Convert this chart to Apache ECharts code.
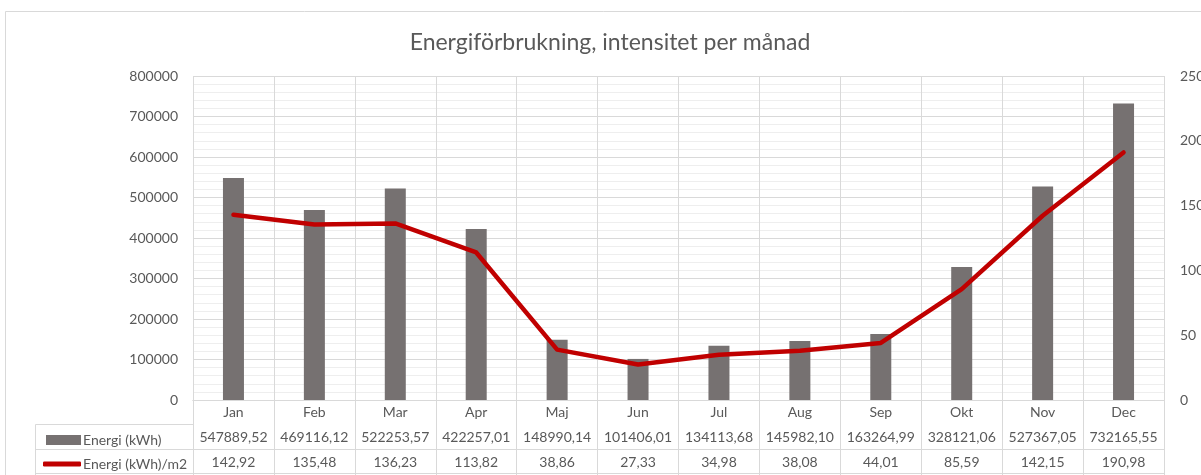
<!DOCTYPE html>
<html>
<head>
<meta charset="utf-8">
<script src="https://cdn.jsdelivr.net/npm/echarts@6/dist/echarts.min.js"></script>
<style>
  html, body { margin: 0; padding: 0; background: #fff; overflow: hidden; }
  #main { width: 1201px; height: 475px; }
</style>
</head>
<body>
<div id="main"></div>
<script>
// månader och värden (avlästa ur tabellen)
const months = ["Jan", "Feb", "Mar", "Apr", "Maj", "Jun", "Jul", "Aug", "Sep", "Okt", "Nov", "Dec"];
const energi = [547889.52, 469116.12, 522253.57, 422257.01, 148990.14, 101406.01, 134113.68, 145982.10, 163264.99, 328121.06, 527367.05, 732165.55];
const intensitet = [142.92, 135.48, 136.23, 113.82, 38.86, 27.33, 34.98, 38.08, 44.01, 85.59, 142.15, 190.98];

const fnt = "Lato, 'Liberation Sans', sans-serif";
const txt = "#595959";
const lineCol = "#d9d9d9";

function sv(n) {
  return n.toFixed(2).replace(".", ",");
}

// extra x-axlar som ritar datatabellens rader
function tableAxis(offset, values) {
  return {
    type: "category",
    gridIndex: 0,
    position: "bottom",
    offset: offset,
    data: months,
    axisLine: { show: true, lineStyle: { color: lineCol, width: 1 } },
    axisTick: { show: false },
    splitLine: { show: false },
    axisLabel: values ? {
      interval: 0,
      margin: 5,
      color: txt,
      fontFamily: fnt,
      fontSize: 14,
      lineHeight: 16,
      formatter: (v, i) => sv(values[i])
    } : { show: false }
  };
}

let myChart = echarts.init(document.getElementById("main"), null, { renderer: "canvas", width: 1201, height: 475 });

let option = {
  backgroundColor: "#fff",
  animation: false,
  title: {
    text: "Energiförbrukning, intensitet per månad",
    left: 605,
    textAlign: "center",
    top: 26,
    textStyle: { color: txt, fontFamily: fnt, fontSize: 23, fontWeight: "normal" }
  },
  grid: { left: 193, top: 76, width: 971, height: 324, containLabel: false, outerBoundsMode: "none" },
  legend: [
    {
      data: [{ name: "Energi (kWh)", icon: "rect" }],
      left: 41, top: 428, itemWidth: 35, itemHeight: 10, itemGap: 0,
      selectedMode: false,
      textStyle: { color: txt, fontFamily: fnt, fontSize: 14, padding: [-3, 0, 0, -3] }
    },
    {
      data: [{ name: "Energi (kWh)/m2", icon: "roundRect", itemStyle: { color: "#c00000" } }],
      left: 38, top: 452, itemWidth: 38, itemHeight: 5, itemGap: 0,
      selectedMode: false,
      textStyle: { color: txt, fontFamily: fnt, fontSize: 14, padding: [-3, 0, 0, -3] }
    }
  ],
  xAxis: [
    {
      type: "category",
      data: months,
      axisLine: { lineStyle: { color: lineCol } },
      axisTick: { show: true, interval: 0, length: 75, lineStyle: { color: lineCol } },
      splitLine: { show: true, interval: 0, lineStyle: { color: lineCol } },
      axisLabel: { interval: 0, margin: 4, color: txt, fontFamily: fnt, fontSize: 14, lineHeight: 16 }
    },
    tableAxis(24, energi),
    tableAxis(49, intensitet),
    tableAxis(73, null)
  ],
  yAxis: [
    {
      type: "value",
      min: 0,
      max: 800000,
      interval: 100000,
      axisLine: { show: false },
      axisTick: { show: false },
      splitLine: { show: true, lineStyle: { color: lineCol } },
      minorTick: { show: false, splitNumber: 5 },
      minorSplitLine: { show: true, lineStyle: { color: "#eeeeee" } },
      axisLabel: { margin: 15, color: txt, fontFamily: fnt, fontSize: 14, formatter: v => String(v) }
    },
    {
      type: "value",
      min: 0,
      max: 250,
      interval: 50,
      position: "right",
      axisLine: { show: false },
      axisTick: { show: false },
      splitLine: { show: false },
      axisLabel: { margin: 16, color: txt, fontFamily: fnt, fontSize: 14, formatter: v => String(v) }
    }
  ],
  series: [
    {
      name: "Energi (kWh)",
      type: "bar",
      barWidth: 21,
      itemStyle: { color: "#767171" },
      data: energi
    },
    {
      name: "Energi (kWh)/m2",
      type: "line",
      yAxisIndex: 1,
      showSymbol: false,
      symbol: "none",
      lineStyle: { color: "#c00000", width: 4.5, cap: "round", join: "round" },
      itemStyle: { color: "#c00000" },
      data: intensitet
    }
  ],
  graphic: [
    // diagramramen
    { type: "line", shape: { x1: 5.5, y1: 11.5, x2: 1201, y2: 11.5 }, style: { stroke: lineCol, lineWidth: 1 } },
    { type: "line", shape: { x1: 5.5, y1: 11.5, x2: 5.5, y2: 475 }, style: { stroke: lineCol, lineWidth: 1 } },
    // förklaringscellerna i tabellen
    { type: "line", shape: { x1: 35.5, y1: 424.5, x2: 193, y2: 424.5 }, style: { stroke: lineCol, lineWidth: 1 } },
    { type: "line", shape: { x1: 35.5, y1: 449.5, x2: 193, y2: 449.5 }, style: { stroke: lineCol, lineWidth: 1 } },
    { type: "line", shape: { x1: 35.5, y1: 473.5, x2: 193, y2: 473.5 }, style: { stroke: lineCol, lineWidth: 1 } },
    { type: "line", shape: { x1: 35.5, y1: 424.5, x2: 35.5, y2: 475 }, style: { stroke: lineCol, lineWidth: 1 } }
  ]
};

myChart.setOption(option);
</script>
</body>
</html>
